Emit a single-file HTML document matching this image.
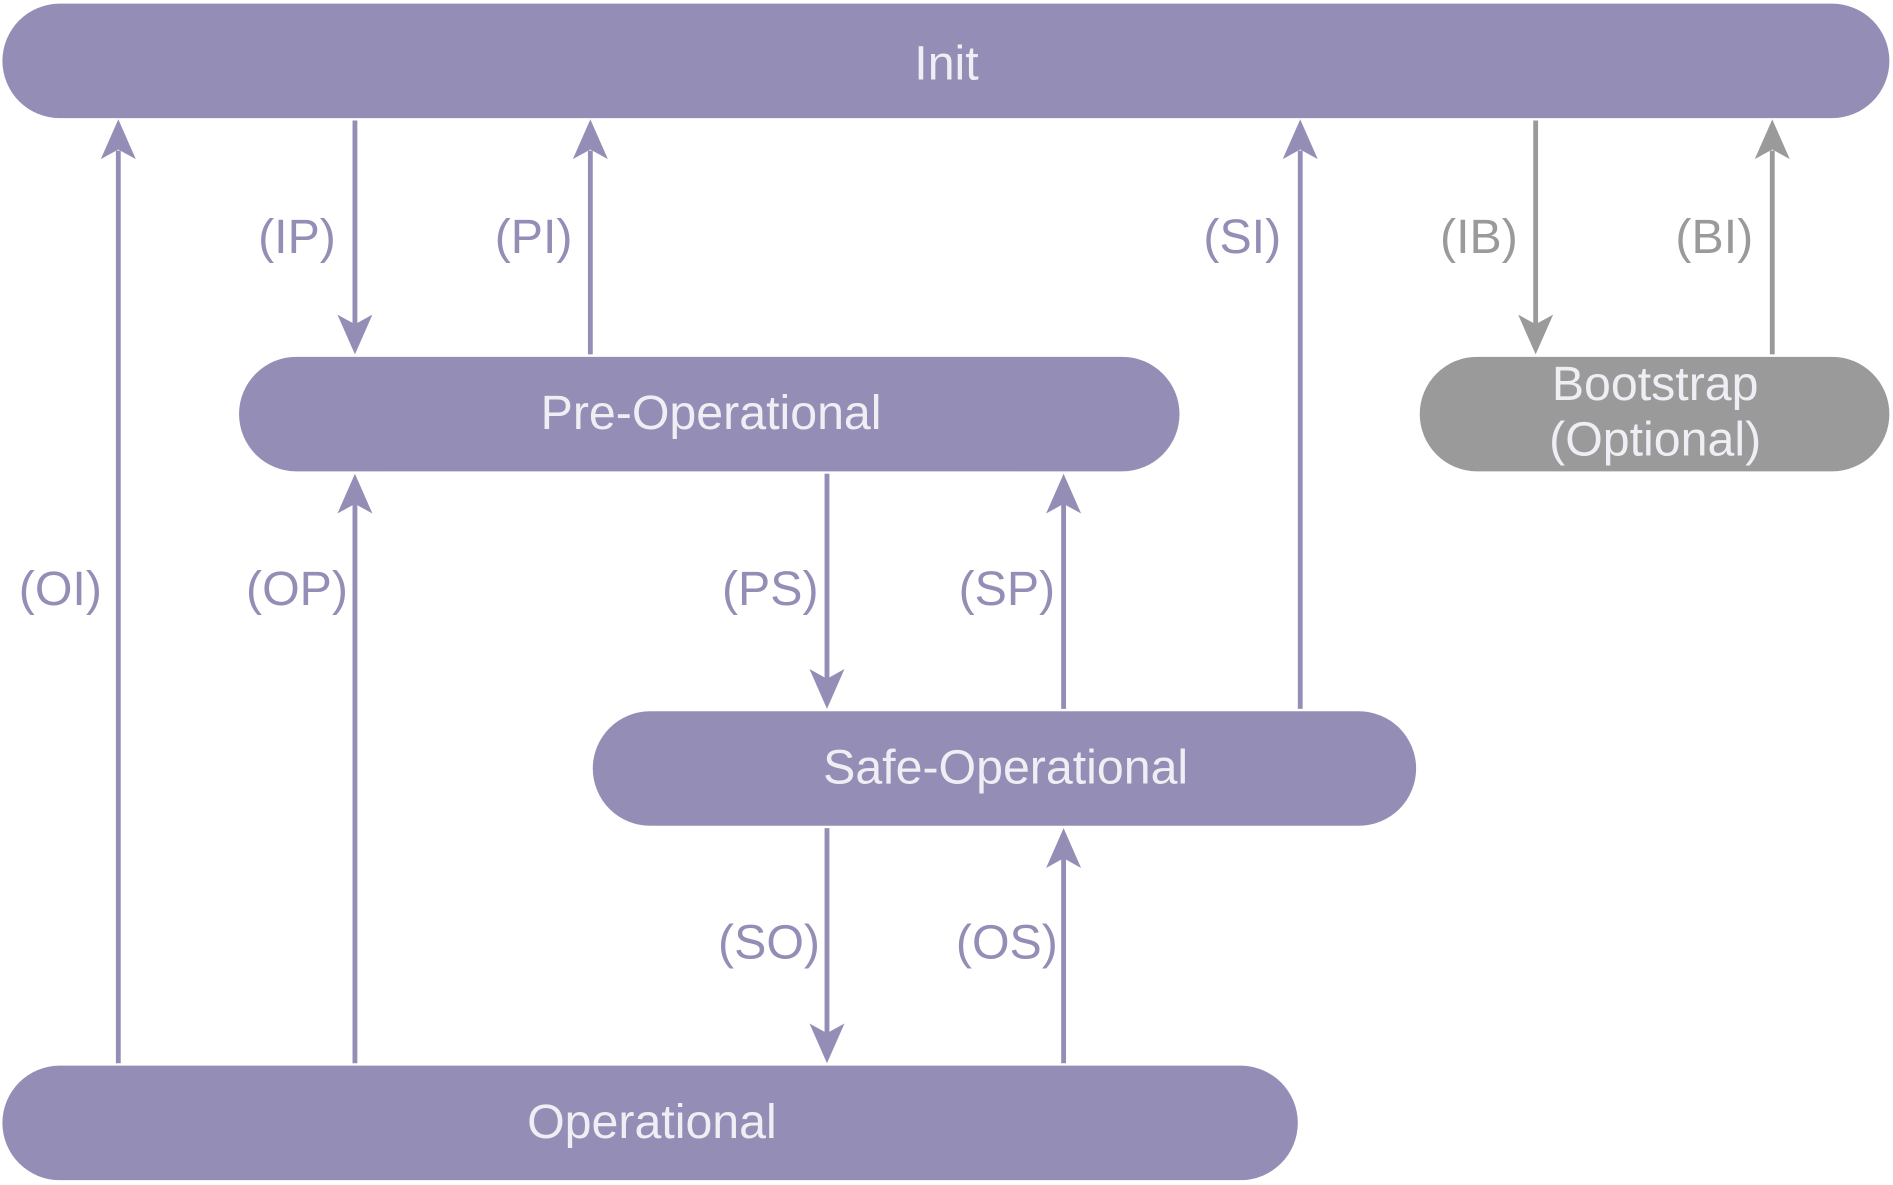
<!DOCTYPE html>
<html><head><meta charset="utf-8"><style>
html,body{margin:0;padding:0;background:#fff;}
svg{display:block;}
text{font-family:"Liberation Sans",sans-serif;}
</style></head><body>
<svg width="1893" height="1185" viewBox="0 0 1568 983" preserveAspectRatio="none" xmlns="http://www.w3.org/2000/svg">
<defs>
<path id="ah" d="M0,0 L-14.5,-33 L0,-25 L14.5,-33 Z"/>
</defs>
<g fill="#948db5">
<rect x="2" y="3" width="1563" height="95" rx="47.5"/>
<rect x="198" y="296" width="779" height="95" rx="47.5"/>
<rect x="491" y="590" width="682" height="95" rx="47.5"/>
<rect x="2" y="884" width="1073" height="95" rx="47.5"/>
</g>
<rect x="1176" y="296" width="389" height="95" rx="47.5" fill="#9a9a9a"/>
<g fill="#f0eef4" font-size="40" text-anchor="middle">
<text x="784" y="66">Init</text>
<text x="589" y="356">Pre-Operational</text>
<text x="833" y="650">Safe-Operational</text>
<text x="540" y="944">Operational</text>
<text x="1371" y="332">Bootstrap</text>
<text x="1371" y="378">(Optional)</text>
</g>
<g stroke="#948db5" stroke-width="4" fill="none">
<line x1="98" y1="882" x2="98" y2="125"/>
<line x1="294" y1="100" x2="294" y2="270"/>
<line x1="489" y1="294" x2="489" y2="125"/>
<line x1="1077" y1="588" x2="1077" y2="125"/>
<line x1="294" y1="882" x2="294" y2="418"/>
<line x1="685" y1="393" x2="685" y2="563"/>
<line x1="881" y1="588" x2="881" y2="418"/>
<line x1="685" y1="687" x2="685" y2="857"/>
<line x1="881" y1="882" x2="881" y2="712"/>
</g>
<g stroke="#9a9a9a" stroke-width="4">
<line x1="1272" y1="100" x2="1272" y2="270"/>
<line x1="1468" y1="294" x2="1468" y2="125"/>
</g>
<g fill="#948db5">
<use href="#ah" transform="translate(98,99) rotate(180)"/>
<use href="#ah" transform="translate(294,294)"/>
<use href="#ah" transform="translate(489,99) rotate(180)"/>
<use href="#ah" transform="translate(1077,99) rotate(180)"/>
<use href="#ah" transform="translate(294,393) rotate(180)"/>
<use href="#ah" transform="translate(685,588)"/>
<use href="#ah" transform="translate(881,393) rotate(180)"/>
<use href="#ah" transform="translate(685,882)"/>
<use href="#ah" transform="translate(881,687) rotate(180)"/>
</g>
<g fill="#9a9a9a">
<use href="#ah" transform="translate(1272,294)"/>
<use href="#ah" transform="translate(1468,99) rotate(180)"/>
</g>
<g fill="#948db5" font-size="40" text-anchor="middle">
<text x="246" y="210">(IP)</text>
<text x="442" y="210">(PI)</text>
<text x="1029" y="210">(SI)</text>
<text x="50" y="502">(OI)</text>
<text x="246" y="502">(OP)</text>
<text x="638" y="502">(PS)</text>
<text x="834" y="502">(SP)</text>
<text x="637" y="795">(SO)</text>
<text x="834" y="795">(OS)</text>
</g>
<g fill="#9a9a9a" font-size="40" text-anchor="middle">
<text x="1225" y="210">(IB)</text>
<text x="1420" y="210">(BI)</text>
</g>
</svg>
</body></html>
